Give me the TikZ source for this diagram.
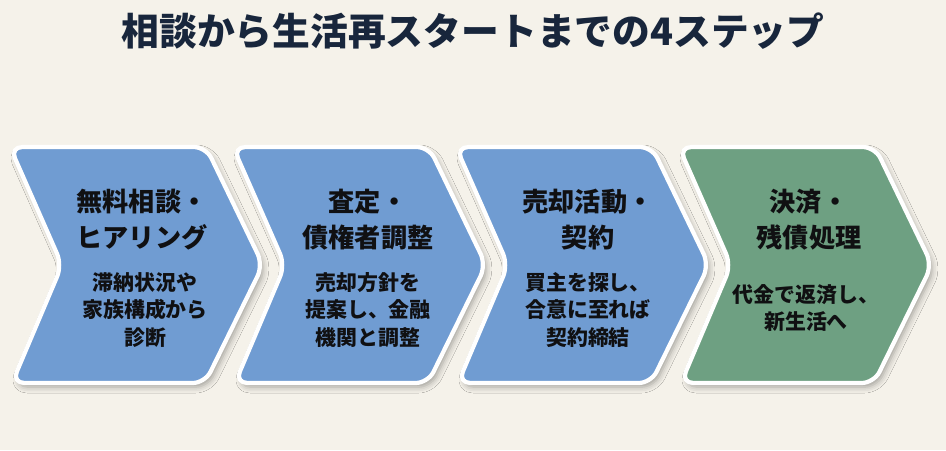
\documentclass[tikz,border=0pt]{standalone}
\usepackage{fontspec}
\usepackage{tikz}
\usetikzlibrary{shadows.blur}
\newfontfamily\jpfont{Noto Sans CJK JP}
\definecolor{paper}{RGB}{245,242,234}
\definecolor{titlenavy}{RGB}{24,38,60}
\definecolor{stepblue}{RGB}{112,156,210}
\definecolor{stepgreen}{RGB}{110,160,130}
\definecolor{ink}{RGB}{16,16,18}
\tikzset{chevron/.style = {draw=white, line width=2.4pt, rounded corners=7pt,
                           blur shadow={shadow xshift=0.06cm, shadow yshift=-0.08cm,
                                        shadow blur radius=0.12cm, shadow opacity=35}},
         steptitle/.style = {text=ink, align=center,
                             font=\jpfont\bfseries\fontsize{14.9}{20.5}\selectfont},
         steptext/.style = {text=ink, align=center,
                            font=\jpfont\bfseries\fontsize{11.9}{15.9}\selectfont}}

\begin{document}
\begin{tikzpicture}[x=0.02cm, y=-0.02cm]
    \fill [paper] (0, 0) rectangle (946, 450);
    \useasboundingbox (0, 0) rectangle (946, 450);
    \node (title) [text=titlenavy, font=\jpfont\bfseries\fontsize{21.5}{26}\selectfont]
        at (473, 31) {相談から生活再スタートまでの4ステップ};
    \foreach \i/\col in {0/stepblue, 1/stepblue, 2/stepblue, 3/stepgreen} {
      \pgfmathsetmacro{\x}{10 + 223*\i}
      \draw [chevron, fill=\col] (\x, 147) -- (\x + 196, 147) -- (\x + 253, 265)
        -- (\x + 195, 383) -- (\x + 2, 383) -- (\x + 52, 265) -- cycle;
    }
    \node (head1) [steptitle] at (142, 220) {無料相談・\\ヒアリング};
    \node (body1) [steptext] at (145, 310) {滞納状況や\\家族構成から\\診断};
    \node (head2) [steptitle] at (368, 220) {査定・\\債権者調整};
    \node (body2) [steptext] at (368, 310) {売却方針を\\提案し、金融\\機関と調整};
    \node (head3) [steptitle] at (588, 220) {売却活動・\\契約};
    \node (body3) [steptext] at (588, 310) {買主を探し、\\合意に至れば\\契約締結};
    \node (head4) [steptitle] at (809, 220) {決済・\\残債処理};
    \node (body4) [steptext] at (806, 308) {代金で返済し、\\新生活へ};
  \end{tikzpicture}
\end{document}
